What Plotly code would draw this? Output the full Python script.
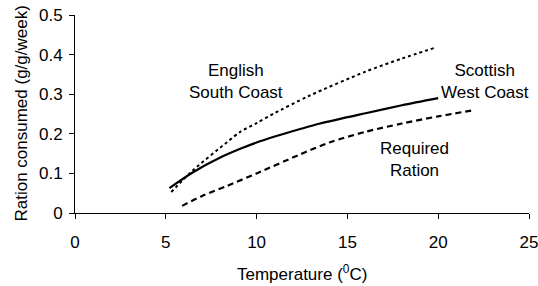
import plotly.graph_objects as go

# Data
scot_T = [5.2, 6.5, 8, 9.1, 10, 11, 12.4, 13.5, 16, 18, 20]
scot_y = [0.063, 0.103, 0.140, 0.162, 0.178, 0.193, 0.212, 0.226, 0.252, 0.272, 0.290]

eng_T = [5.3, 6.5, 8.35, 9.1, 10, 10.9, 12.9, 16, 18, 19.8]
eng_y = [0.053, 0.108, 0.178, 0.205, 0.227, 0.250, 0.296, 0.357, 0.390, 0.417]

req_T = [5.9, 7, 8.35, 10, 12.4, 14, 16, 18, 20, 22]
req_y = [0.018, 0.043, 0.068, 0.100, 0.148, 0.178, 0.205, 0.226, 0.244, 0.260]

x_ticks = [0, 5, 10, 15, 20, 25]
y_ticks = [0, 0.1, 0.2, 0.3, 0.4, 0.5]
y_tick_labels = ["0", "0.1", "0.2", "0.3", "0.4", "0.5"]

font = "Liberation Sans, Arial, sans-serif"
fs = 17

fig = go.Figure()
fig.add_trace(go.Scatter(x=eng_T, y=eng_y, mode="lines",
                         line=dict(color="black", width=2, dash="dot",
                                   shape="spline", smoothing=0.8)))
fig.add_trace(go.Scatter(x=scot_T, y=scot_y, mode="lines",
                         line=dict(color="black", width=2.2,
                                   shape="spline", smoothing=0.8)))
fig.add_trace(go.Scatter(x=req_T, y=req_y, mode="lines",
                         line=dict(color="black", width=2.2, dash="6px,4px",
                                   shape="spline", smoothing=0.8)))

labels = [
    (8.87, 0.333, "English<br>South Coast"),
    (22.6, 0.333, "Scottish<br>West Coast"),
    (18.7, 0.136, "Required<br>Ration"),
]
for x, y, t in labels:
    fig.add_annotation(x=x, y=y, text=t, showarrow=False,
                       font=dict(family=font, size=fs, color="black"),
                       xanchor="center", yanchor="middle")

fig.add_annotation(xref="paper", yref="paper", x=0.5, y=-0.305,
                   text="Temperature (<sup>0</sup>C)", showarrow=False,
                   font=dict(family=font, size=fs, color="black"),
                   xanchor="center", yanchor="middle")
fig.add_annotation(xref="paper", yref="paper", x=-0.120, y=0.5,
                   text="Ration consumed (g/g/week)", showarrow=False, textangle=-90,
                   font=dict(family=font, size=fs, color="black"),
                   xanchor="center", yanchor="middle")

fig.update_layout(
    width=538, height=286,
    margin=dict(l=75, r=9, t=15, b=73),
    plot_bgcolor="white", paper_bgcolor="white",
    showlegend=False,
    hovermode=False,
    font=dict(family=font, size=fs, color="black"),
    xaxis=dict(range=[0, 25], tickvals=x_ticks, showgrid=False, zeroline=False,
               showline=True, linecolor="black", linewidth=1,
               ticks="outside", ticklen=5, tickcolor="black",
               ticklabelstandoff=9, automargin=False, ticklabeloverflow="allow"),
    yaxis=dict(range=[0, 0.5], tickvals=y_ticks, ticktext=y_tick_labels,
               showgrid=False, zeroline=False,
               showline=True, linecolor="black", linewidth=1,
               ticks="outside", ticklen=5, tickcolor="black",
               ticklabelstandoff=3, automargin=False, ticklabeloverflow="allow"),
)

# Remove the default page margin so the figure fills the window exactly.
fig.write_html("out.html", config={"displayModeBar": False},
               post_script="document.body.style.margin='0';document.body.style.overflow='hidden';")
